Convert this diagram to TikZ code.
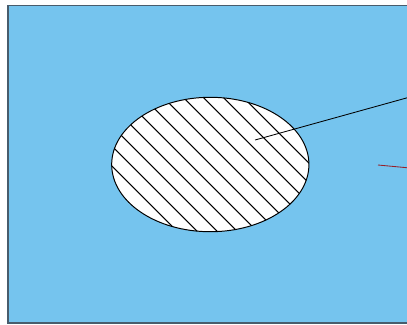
\documentclass[tikz,border=0pt]{standalone}
\usepackage{tikz}
\usetikzlibrary{positioning,calc,shapes.geometric}
\definecolor{skyfill}{RGB}{117,196,238}
\definecolor{frameedge}{RGB}{72,92,108}
\definecolor{leadred}{RGB}{150,32,40}

\begin{document}
\begin{tikzpicture}[x=0.025cm,y=-0.025cm]
  \useasboundingbox (0,0) rectangle (407,324);
  \draw[fill=skyfill,draw=frameedge,line width=1.2pt] (8,5.5) rectangle (415,322.8);
  \node[ellipse,draw,fill=white,line width=0.7pt,minimum width=4.93cm,minimum height=3.36cm,
    path picture={
      \foreach \k in {-6,...,6}
        \draw[line width=0.75pt] ($(path picture bounding box.center)+(\k*20-140,-140)$) -- ++(280,280);
    }] (hole) at (210.3,164.5) {};
  \coordinate (tip) at (255,140);
  \coordinate (outA) at (410,97);
  \draw[line width=0.6pt] (tip) -- (outA);
  \coordinate (redA) at (378,165);
  \coordinate (redB) at (410,168);
  \draw[leadred,line width=0.6pt] (redA) -- (redB);
\end{tikzpicture}
\end{document}
